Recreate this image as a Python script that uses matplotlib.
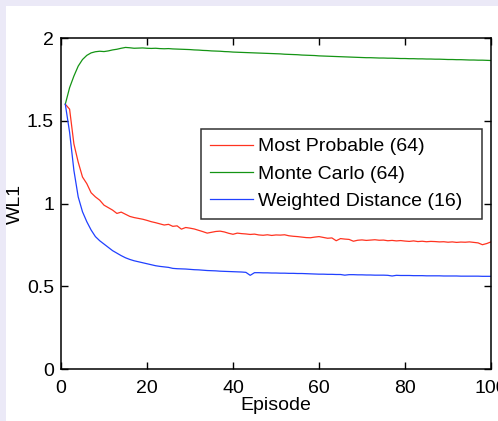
import matplotlib
matplotlib.use("Agg")
import matplotlib.pyplot as plt
from matplotlib.patches import Rectangle
import numpy as np

plt.rcParams['font.family'] = ['Liberation Sans', 'DejaVu Sans']

episodes = list(range(1, 101))

most_probable = [
    1.600, 1.570, 1.360, 1.250, 1.160, 1.120, 1.065, 1.040, 1.020, 0.990,
    0.975, 0.960, 0.940, 0.948, 0.935, 0.922, 0.915, 0.910, 0.905, 0.898,
    0.890, 0.884, 0.877, 0.870, 0.874, 0.862, 0.865, 0.845, 0.855, 0.851,
    0.846, 0.838, 0.830, 0.821, 0.826, 0.831, 0.833, 0.828, 0.820, 0.814,
    0.821, 0.818, 0.816, 0.813, 0.815, 0.810, 0.808, 0.811, 0.807, 0.810,
    0.809, 0.811, 0.805, 0.802, 0.800, 0.797, 0.794, 0.793, 0.797, 0.800,
    0.795, 0.790, 0.792, 0.775, 0.788, 0.785, 0.783, 0.772, 0.778, 0.780,
    0.777, 0.779, 0.781, 0.778, 0.779, 0.775, 0.777, 0.774, 0.776, 0.773,
    0.771, 0.774, 0.770, 0.772, 0.769, 0.771, 0.770, 0.768, 0.769, 0.766,
    0.768, 0.765, 0.767, 0.766, 0.768, 0.765, 0.762, 0.751, 0.758, 0.768,
]

monte_carlo = [
    1.600, 1.700, 1.770, 1.830, 1.870, 1.895, 1.910, 1.917, 1.920, 1.918,
    1.922, 1.928, 1.932, 1.938, 1.943, 1.941, 1.938, 1.939, 1.940, 1.938,
    1.937, 1.938, 1.936, 1.935, 1.936, 1.934, 1.933, 1.932, 1.931, 1.930,
    1.928, 1.927, 1.925, 1.924, 1.922, 1.921, 1.920, 1.918, 1.917, 1.915,
    1.914, 1.913, 1.912, 1.911, 1.910, 1.909, 1.908, 1.907, 1.906, 1.905,
    1.904, 1.902, 1.901, 1.900, 1.899, 1.897, 1.896, 1.895, 1.894, 1.892,
    1.891, 1.890, 1.889, 1.888, 1.887, 1.886, 1.885, 1.884, 1.883, 1.882,
    1.881, 1.881, 1.880, 1.879, 1.879, 1.878, 1.878, 1.877, 1.876, 1.876,
    1.875, 1.875, 1.874, 1.874, 1.873, 1.873, 1.872, 1.872, 1.871, 1.870,
    1.870, 1.869, 1.869, 1.868, 1.867, 1.867, 1.866, 1.866, 1.865, 1.864,
]

weighted_distance = [
    1.600, 1.430, 1.200, 1.040, 0.950, 0.890, 0.840, 0.800, 0.775, 0.755,
    0.735, 0.715, 0.700, 0.685, 0.672, 0.662, 0.654, 0.648, 0.642, 0.636,
    0.630, 0.624, 0.620, 0.617, 0.614, 0.608, 0.606, 0.605, 0.604, 0.602,
    0.600, 0.599, 0.597, 0.595, 0.594, 0.593, 0.591, 0.590, 0.589, 0.588,
    0.587, 0.586, 0.584, 0.566, 0.582, 0.582, 0.581, 0.581, 0.580, 0.580,
    0.579, 0.579, 0.578, 0.578, 0.577, 0.577, 0.576, 0.575, 0.574, 0.573,
    0.573, 0.572, 0.572, 0.571, 0.571, 0.567, 0.570, 0.570, 0.569, 0.569,
    0.568, 0.568, 0.567, 0.567, 0.567, 0.566, 0.562, 0.566, 0.565, 0.565,
    0.565, 0.564, 0.564, 0.564, 0.563, 0.563, 0.563, 0.563, 0.562, 0.562,
    0.562, 0.562, 0.561, 0.561, 0.561, 0.561, 0.561, 0.560, 0.560, 0.560,
]

series_labels = ["Most Probable (64)", "Monte Carlo (64)", "Weighted Distance (16)"]
series_colors = ["#ff3320", "#149414", "#2040ff"]

x_ticks = [0, 20, 40, 60, 80, 100]
y_ticks = [0, 0.5, 1, 1.5, 2]
y_tick_labels = ["0", "0.5", "1", "1.5", "2"]

fig = plt.figure(figsize=(4.98, 4.21), dpi=100, facecolor="#ebe9f7")
# white page inside a thin tinted border
fig.patches.append(Rectangle((6 / 498, 0), 1, 1 - 6 / 421, transform=fig.transFigure,
                             facecolor="white", edgecolor="none", zorder=-10))

ax = fig.add_axes([61 / 498, 1 - 369 / 421, 430 / 498, 331 / 421])
ax.set_zorder(5)
ax.set_facecolor("white")

for vals, lab, col in zip([most_probable, monte_carlo, weighted_distance],
                          series_labels, series_colors):
    ax.plot(episodes, vals, color=col, lw=0.9, label=lab)

ax.set_xlim(0, 100)
ax.set_ylim(0, 2)
ax.set_xticks(x_ticks)
ax.set_yticks(y_ticks)
ax.set_yticklabels(y_tick_labels)
ax.tick_params(direction="in", length=5, width=1, top=True, right=True,
               labelsize=14, pad=5)
ax.tick_params(axis="x", pad=8)
for s in ax.spines.values():
    s.set_linewidth(1.1)

ax.set_xlabel("Episode", fontsize=14, labelpad=0)
ax.set_ylabel("WL1", fontsize=14, labelpad=2)

leg = ax.legend(loc="upper left", bbox_to_anchor=(0.326, 0.462, 0.653, 0.263),
                mode="expand", borderaxespad=0, fontsize=14, frameon=True,
                fancybox=False, handlelength=2.2, handletextpad=0.25,
                borderpad=0.45, labelspacing=0.5)
leg.get_frame().set_edgecolor("black")
leg.get_frame().set_linewidth(1.1)

fig.savefig("out.png", dpi=100, facecolor=fig.get_facecolor())
